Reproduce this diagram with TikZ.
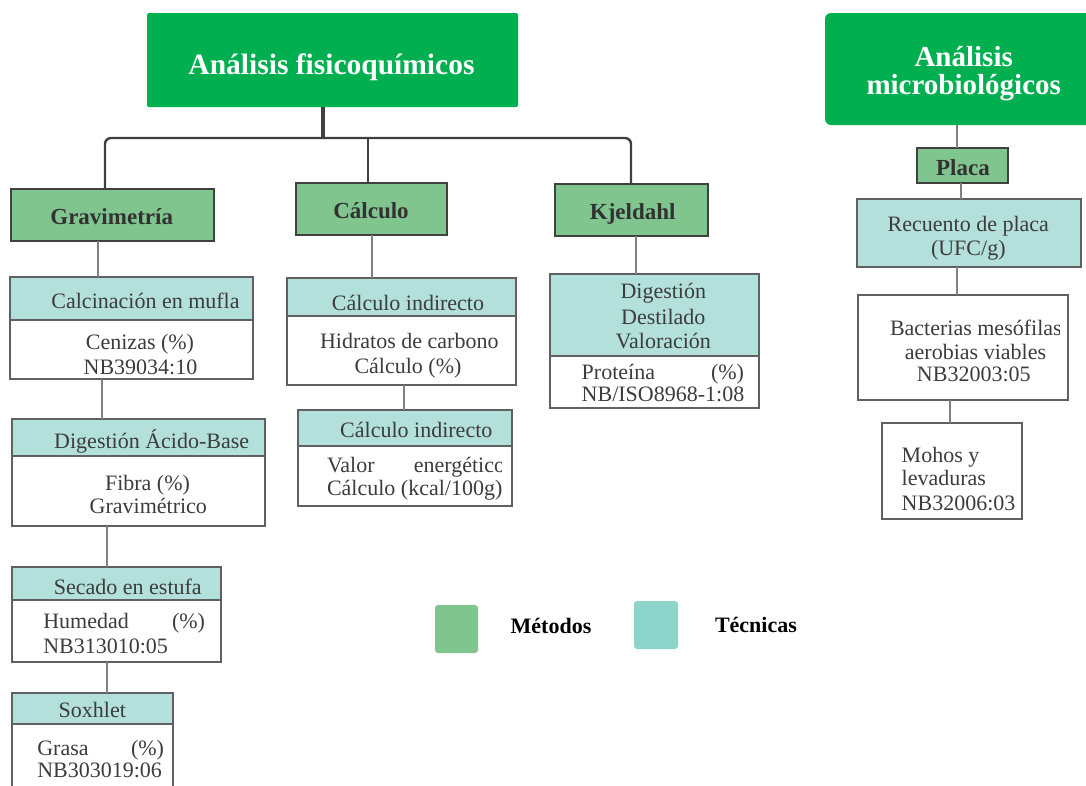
\documentclass[tikz,border=0pt]{standalone}
\usepackage{fontspec}
\setmainfont{Liberation Serif}
\definecolor{headgreen}{RGB}{0,176,80}
\definecolor{methfill}{RGB}{128,197,142}
\definecolor{techfill}{RGB}{179,224,218}
\definecolor{techkey}{RGB}{141,213,203}
\definecolor{methline}{RGB}{64,64,64}
\definecolor{techline}{RGB}{96,96,96}
\definecolor{linkgray}{RGB}{128,128,128}
\definecolor{bodytext}{RGB}{60,60,60}
\definecolor{methtext}{RGB}{50,50,50}
% rectangle node given by its corners: style, name, x1, y1, x2, y2
\newcommand\boxat[6]{\node[#1, minimum width={(#5-#3)*1pt}, minimum height={(#6-#4)*1pt}] (#2) at ({(#3+#5)/2},{(#4+#6)/2}) {};}
\begin{document}
\begin{tikzpicture}[x=1pt,y=-1pt,
  every node/.style={inner sep=0pt, outer sep=0pt},
  titlebox/.style={rectangle, fill=headgreen},
  methbox/.style={rectangle, draw=methline, line width=1.8pt, fill=methfill},
  techhead/.style={rectangle, draw=techline, line width=1.1pt, fill=techfill},
  techbody/.style={rectangle, draw=techline, line width=1.1pt, fill=white},
  trunk/.style={draw=methline, line width=3.4pt},
  branch/.style={draw=methline, line width=2.4pt},
  link/.style={draw=linkgray, line width=1.3pt},
  titletext/.style={anchor=base, text=white, font=\fontsize{29}{27.5}\selectfont\bfseries},
  methtxt/.style={anchor=base, text=methtext, font=\fontsize{23}{26}\selectfont\bfseries},
  txt/.style={anchor=base, text=bodytext, font=\fontsize{22}{26}\selectfont},
  ltxt/.style={txt, anchor=base west},
  keytext/.style={anchor=base west, text=black, font=\fontsize{22}{26}\selectfont\bfseries}
]
\useasboundingbox (0,0) rectangle (1086,785);
\fill[white] (0,0) rectangle (1086,785);
\clip (0,0) rectangle (1086,785);

% ---- headings
\boxat{titlebox, rounded corners=1.5}{fq}{147}{13}{518}{107}
\node[titletext, font=\fontsize{29.5}{30}\selectfont\bfseries] (fqt) at (331.5,74) {Análisis fisicoquímicos};
\boxat{titlebox, rounded corners=6}{fm}{825}{13}{1100}{125}
\node[titletext, align=center] (fmt) at (963.7,94) {Análisis\\microbiológicos};

% ---- methods
\boxat{methbox}{grav}{11}{189}{214}{241}
\node[methtxt] (gravt) at (111.7,224) {Gravimetría};
\boxat{methbox}{calc}{296}{183}{447}{235}
\node[methtxt] (calct) at (371,218.3) {Cálculo};
\boxat{methbox}{kj}{555}{184}{708}{236}
\node[methtxt] (kjt) at (632.7,219.5) {Kjeldahl};
\boxat{methbox}{placa}{917}{148}{1008}{183}
\node[methtxt] (placat) at (963,175) {Placa};

% ---- main tree connectors
\coordinate (hub) at (323,138);
\draw[trunk] ([xshift=-9.5pt]fq.south) -- (hub);
\draw[branch, rounded corners=6] ([xshift=-7.5pt]grav.north) |- (hub) -| ([xshift=-0.5pt]kj.north);
\draw[branch] ([xshift=-3.5pt]calc.north) |- (hub);

% ---- gravimetry column
\boxat{techbody}{b1b}{10}{320}{253}{379}
\boxat{techhead}{b1h}{10}{277}{253}{320}
\node[txt] (b1t) at (145.5,308.3) {Calcinación en mufla};
\node[txt] (b1u) at (140,349.3) {Cenizas (\%)};
\node[txt] (b1v) at (140.5,374) {NB39034:10};

\boxat{techbody}{b2b}{12}{456}{265}{526}
\boxat{techhead}{b2h}{12}{419}{265}{456}
\node[txt] (b2t) at (151.7,448.3) {Digestión Ácido-Base};
\node[txt] (b2u) at (147.5,490) {Fibra (\%)};
\node[txt] (b2v) at (148.3,513.3) {Gravimétrico};

\boxat{techbody}{b3b}{12}{600}{221}{662}
\boxat{techhead}{b3h}{12}{567}{221}{600}
\node[txt] (b3t) at (127.8,594) {Secado en estufa};
\node[ltxt] (b3u) at (43.3,628.3) {\hbox to 161.7pt{Humedad\hfill(\%)}};
\node[ltxt] (b3v) at (43.3,653.3) {NB313010:05};

\boxat{draw=none}{b4b}{12}{724}{173}{790}
\draw[techline, line width=1.1pt] (b4b.south west) -- (b4b.north west) (b4b.north east) -- (b4b.south east);
\boxat{techhead}{b4h}{12}{693}{173}{724}
\node[txt] (b4t) at (92.3,717.3) {Soxhlet};
\node[ltxt] (b4u) at (37.3,755) {\hbox to 126.7pt{Grasa\hfill(\%)}};
\node[ltxt] (b4v) at (37.3,777.3) {NB303019:06};

\draw[link] ([xshift=-14.5pt]grav.south) -- ([xshift=-33.5pt]b1h.north);
\draw[link] ([xshift=-29.5pt]b1b.south) -- ([xshift=-36.5pt]b2h.north);
\draw[link] ([xshift=-31.5pt]b2b.south) -- ([xshift=-9.5pt]b3h.north);
\draw[link] ([xshift=-9.5pt]b3b.south) -- ([xshift=14.5pt]b4h.north);

% ---- calculation column
\boxat{techbody}{c1b}{287}{316}{516}{385}
\boxat{techhead}{c1h}{287}{278}{516}{316}
\node[txt] (c1t) at (408,310) {Cálculo indirecto};
\node[txt] (c1u) at (409.3,348.3) {Hidratos de carbono};
\node[txt] (c1v) at (408,373.3) {Cálculo (\%)};

\boxat{techbody}{c2b}{298}{446}{512}{506}
\boxat{techhead}{c2h}{298}{410}{512}{446}
\node[txt] (c2t) at (416.3,437.7) {Cálculo indirecto};
\begin{scope}
  \clip (300,447) rectangle (501.5,505);
  \node[ltxt] (c2u) at (327,472.3) {\hbox to 178pt{Valor\hfill energético}};
  \node[ltxt] (c2v) at (327,495.7) {Cálculo (kcal/100g)};
\end{scope}

\draw[link] ([xshift=0.5pt]calc.south) -- ([xshift=-29.5pt]c1h.north);
\draw[link] ([xshift=2.5pt]c1b.south) -- ([xshift=-1pt]c2h.north);

% ---- Kjeldahl column
\boxat{techbody}{kb}{550}{356}{759}{408}
\boxat{techhead}{kh}{550}{274}{759}{356}
\node[txt] (kt1) at (663.3,298.3) {Digestión};
\node[txt] (kt2) at (663.3,324) {Destilado};
\node[txt] (kt3) at (663.3,348.3) {Valoración};
\node[ltxt] (ku) at (581.7,379.3) {\hbox to 162.3pt{Proteína\hfill(\%)}};
\node[ltxt] (kv) at (581.7,401.7) {NB/ISO8968-1:08};

\draw[link] ([xshift=4.5pt]kj.south) -- ([xshift=-18.5pt]kh.north);

% ---- microbiological column
\boxat{techhead}{rec}{857}{199}{1081}{267}
\node[txt] (rect1) at (968.3,231.7) {Recuento de placa};
\node[txt] (rect2) at (968.3,255) {(UFC/g)};

\boxat{techbody}{bac}{858}{295}{1068}{400}
\begin{scope}
  \clip (860,300) rectangle (1059.5,345);
  \node[ltxt] (bact1) at (890,335) {Bacterias mesófilas};
\end{scope}
\node[txt] (bact2) at (975.5,359.3) {aerobias viables};
\node[txt] (bact3) at (973.8,381.7) {NB32003:05};

\boxat{techbody}{moh}{882}{423}{1022}{519}
\node[ltxt] (moht1) at (901.7,462) {Mohos y};
\node[ltxt] (moht2) at (901.7,485) {levaduras};
\node[ltxt] (moht3) at (901.7,510.5) {NB32006:03};

\draw[link] ([xshift=-5.5pt]fm.south) -- ([xshift=-5.5pt]placa.north);
\draw[link] ([xshift=-1.5pt]placa.south) -- ([xshift=-8pt]rec.north);
\draw[link] ([xshift=-12pt]rec.south) -- ([xshift=-6pt]bac.north);
\draw[link] ([xshift=-13pt]bac.south) -- ([xshift=-2pt]moh.north);

% ---- key
\boxat{fill=methfill, rounded corners=3}{keym}{435}{605}{478}{653}
\node[keytext] (keymt) at (510.7,633.3) {Métodos};
\boxat{fill=techkey, rounded corners=3}{keyt}{634}{601}{678}{649}
\node[keytext] (keytt) at (715,632.7) {Técnicas};
\end{tikzpicture}
\end{document}
